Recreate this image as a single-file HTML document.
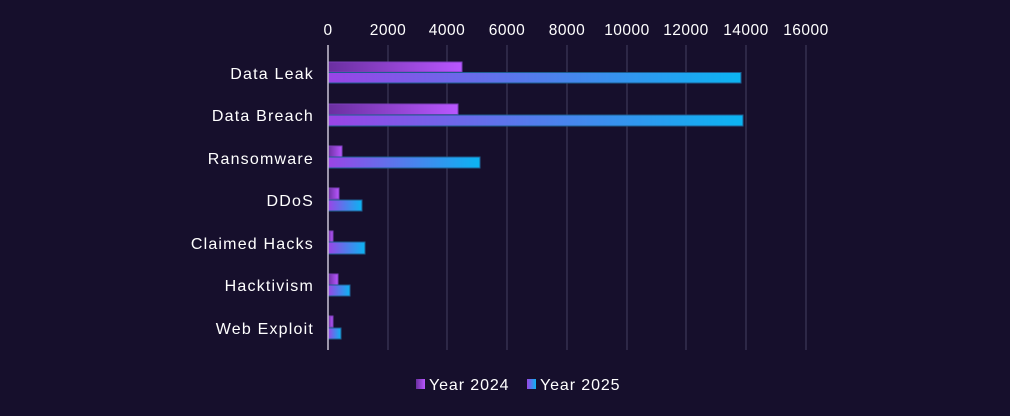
<!DOCTYPE html>
<html><head><meta charset="utf-8"><style>
html,body{margin:0;padding:0;background:#160f2c;}
svg{display:block;font-family:"Liberation Sans",sans-serif;}
</style></head><body>
<svg width="1010" height="416" viewBox="0 0 1010 416">
<defs>
<linearGradient id="g24" x1="0" x2="1" y1="0" y2="0"><stop offset="0" stop-color="#6a2fa0"/><stop offset="1" stop-color="#b957ff"/></linearGradient>
<linearGradient id="g25" x1="0" x2="1" y1="0" y2="0"><stop offset="0" stop-color="#9a44e6"/><stop offset="1" stop-color="#0bb4f2"/></linearGradient>
</defs>
<rect width="1010" height="416" fill="#160f2c"/>
<g stroke="#3a3556" stroke-width="1.3">
<line x1="388" y1="45" x2="388" y2="350"/><line x1="447" y1="45" x2="447" y2="350"/>
<line x1="507" y1="45" x2="507" y2="350"/><line x1="567" y1="45" x2="567" y2="350"/>
<line x1="627" y1="45" x2="627" y2="350"/><line x1="686" y1="45" x2="686" y2="350"/>
<line x1="746" y1="45" x2="746" y2="350"/><line x1="806" y1="45" x2="806" y2="350"/>
</g>
<g fill="#ffffff" font-size="15.5" text-anchor="middle" letter-spacing="0.5">
<text x="328" y="35">0</text><text x="388" y="35">2000</text><text x="447" y="35">4000</text>
<text x="507" y="35">6000</text><text x="567" y="35">8000</text><text x="627" y="35">10000</text>
<text x="686" y="35">12000</text><text x="746" y="35">14000</text><text x="806" y="35">16000</text>
</g>
<g fill="#ffffff" font-size="16" text-anchor="end" letter-spacing="1.2">
<text x="314" y="79">Data Leak</text><text x="314" y="121">Data Breach</text>
<text x="314" y="164">Ransomware</text><text x="314" y="206">DDoS</text>
<text x="314" y="249">Claimed Hacks</text><text x="314" y="291">Hacktivism</text>
<text x="314" y="334">Web Exploit</text>
</g>
<g stroke-width="1">
<rect x="328" y="62" width="134" height="10" fill="url(#g24)" stroke="#7a3fb8"/>
<rect x="328" y="72.5" width="413" height="10.5" fill="url(#g25)" stroke="#1d5e8f"/>
<rect x="328" y="104" width="130" height="10.5" fill="url(#g24)" stroke="#7a3fb8"/>
<rect x="328" y="115" width="415" height="11" fill="url(#g25)" stroke="#1d5e8f"/>
<rect x="328" y="146" width="14" height="11" fill="url(#g24)" stroke="#7a3fb8"/>
<rect x="328" y="157" width="152" height="11" fill="url(#g25)" stroke="#1d5e8f"/>
<rect x="328" y="188" width="11" height="11" fill="url(#g24)" stroke="#7a3fb8"/>
<rect x="328" y="200" width="34" height="11" fill="url(#g25)" stroke="#1d5e8f"/>
<rect x="328" y="231" width="5" height="11" fill="url(#g24)" stroke="#7a3fb8"/>
<rect x="328" y="242" width="37" height="12" fill="url(#g25)" stroke="#1d5e8f"/>
<rect x="328" y="274" width="10" height="11" fill="url(#g24)" stroke="#7a3fb8"/>
<rect x="328" y="285" width="22" height="11" fill="url(#g25)" stroke="#1d5e8f"/>
<rect x="328" y="316" width="5" height="11" fill="url(#g24)" stroke="#7a3fb8"/>
<rect x="328" y="328" width="13" height="11" fill="url(#g25)" stroke="#1d5e8f"/>
</g>
<line x1="328" y1="45" x2="328" y2="350" stroke="#c8c4d4" stroke-width="1.5"/>
<rect x="416" y="379" width="9" height="10" fill="url(#g24)"/>
<text x="429" y="390" fill="#ffffff" font-size="16" letter-spacing="0.9">Year 2024</text>
<rect x="527" y="379" width="9" height="10" fill="url(#g25)"/>
<text x="540" y="390" fill="#ffffff" font-size="16" letter-spacing="0.9">Year 2025</text>
</svg>
</body></html>
